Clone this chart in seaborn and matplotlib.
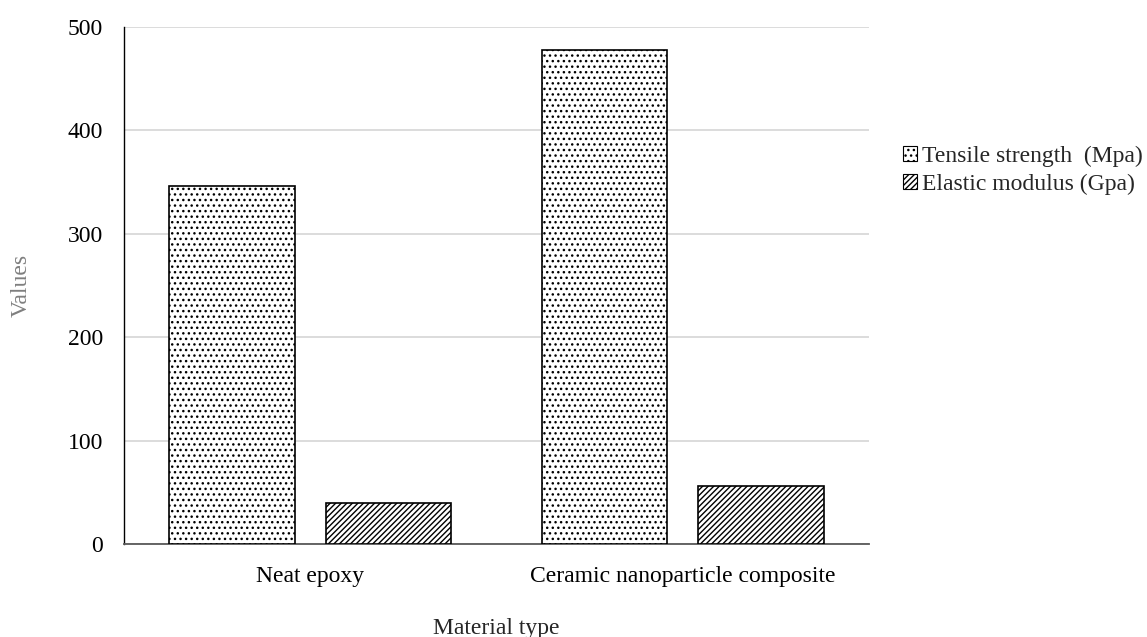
import matplotlib
matplotlib.use("Agg")
import matplotlib.pyplot as plt
import seaborn as sns
import pandas as pd
from matplotlib.patches import Patch

categories = ["Neat epoxy", "Ceramic nanoparticle composite"]
series_names = ["Tensile strength  (Mpa)", "Elastic modulus (Gpa)"]
tensile = [346, 478]
elastic = [40, 56]
yticks = [0, 100, 200, 300, 400, 500]

df = pd.DataFrame({
    "Material type": categories * 2,
    "Values": tensile + elastic,
    "Property": [series_names[0]] * 2 + [series_names[1]] * 2,
})

sns.set_theme(style="white")
plt.rcParams['font.family'] = ['Liberation Serif', 'DejaVu Serif']
plt.rcParams['hatch.linewidth'] = 1.0

FS = 17
fig = plt.figure(figsize=(11.47, 6.37), dpi=100)
ax = fig.add_axes([124/1147, 1-544/637, (869-124)/1147, (544-27)/637])

sns.barplot(data=df, x="Material type", y="Values", hue="Property",
            palette=["white", "white"], edgecolor="black", linewidth=1.2,
            width=0.84, gap=0.2, ax=ax, legend=False, zorder=3)

hatches = ["...", "//////"]
for cont, h in zip(ax.containers, hatches):
    for bar in cont:
        bar.set_hatch(h)
        bar.set_edgecolor("black")

ax.set_xlim(-0.5, 1.5)
ax.set_ylim(0, 500)
ax.set_yticks(yticks)
ax.set_yticklabels([str(t) for t in yticks])
ax.grid(axis="y", color="#d9d9d9", linewidth=1.3, zorder=0)
ax.set_axisbelow(True)
for s in ["top", "right"]:
    ax.spines[s].set_visible(False)
ax.spines["left"].set_color("black")
ax.spines["left"].set_linewidth(1.0)
ax.spines["bottom"].set_color("#595959")
ax.spines["bottom"].set_linewidth(1.3)
ax.tick_params(axis="both", length=0, labelsize=FS, colors="black")
ax.tick_params(axis="x", pad=16)
ax.tick_params(axis="y", pad=15)

ax.set_xlabel("Material type", fontsize=FS, color="#262626", labelpad=22)
ax.set_ylabel("Values", fontsize=FS, color="#7f7f7f", labelpad=26)

lh = [Patch(facecolor="white", edgecolor="black", hatch=h, linewidth=0.8) for h in hatches]
leg = fig.legend(lh, series_names, loc="upper right", bbox_to_anchor=(1.0, 1-141/637),
                 frameon=False, fontsize=FS, handlelength=0.6, handleheight=0.6,
                 handletextpad=0.2, labelspacing=0.3, borderpad=0.1, borderaxespad=0.1)

fig.savefig("out.png", dpi=100)
